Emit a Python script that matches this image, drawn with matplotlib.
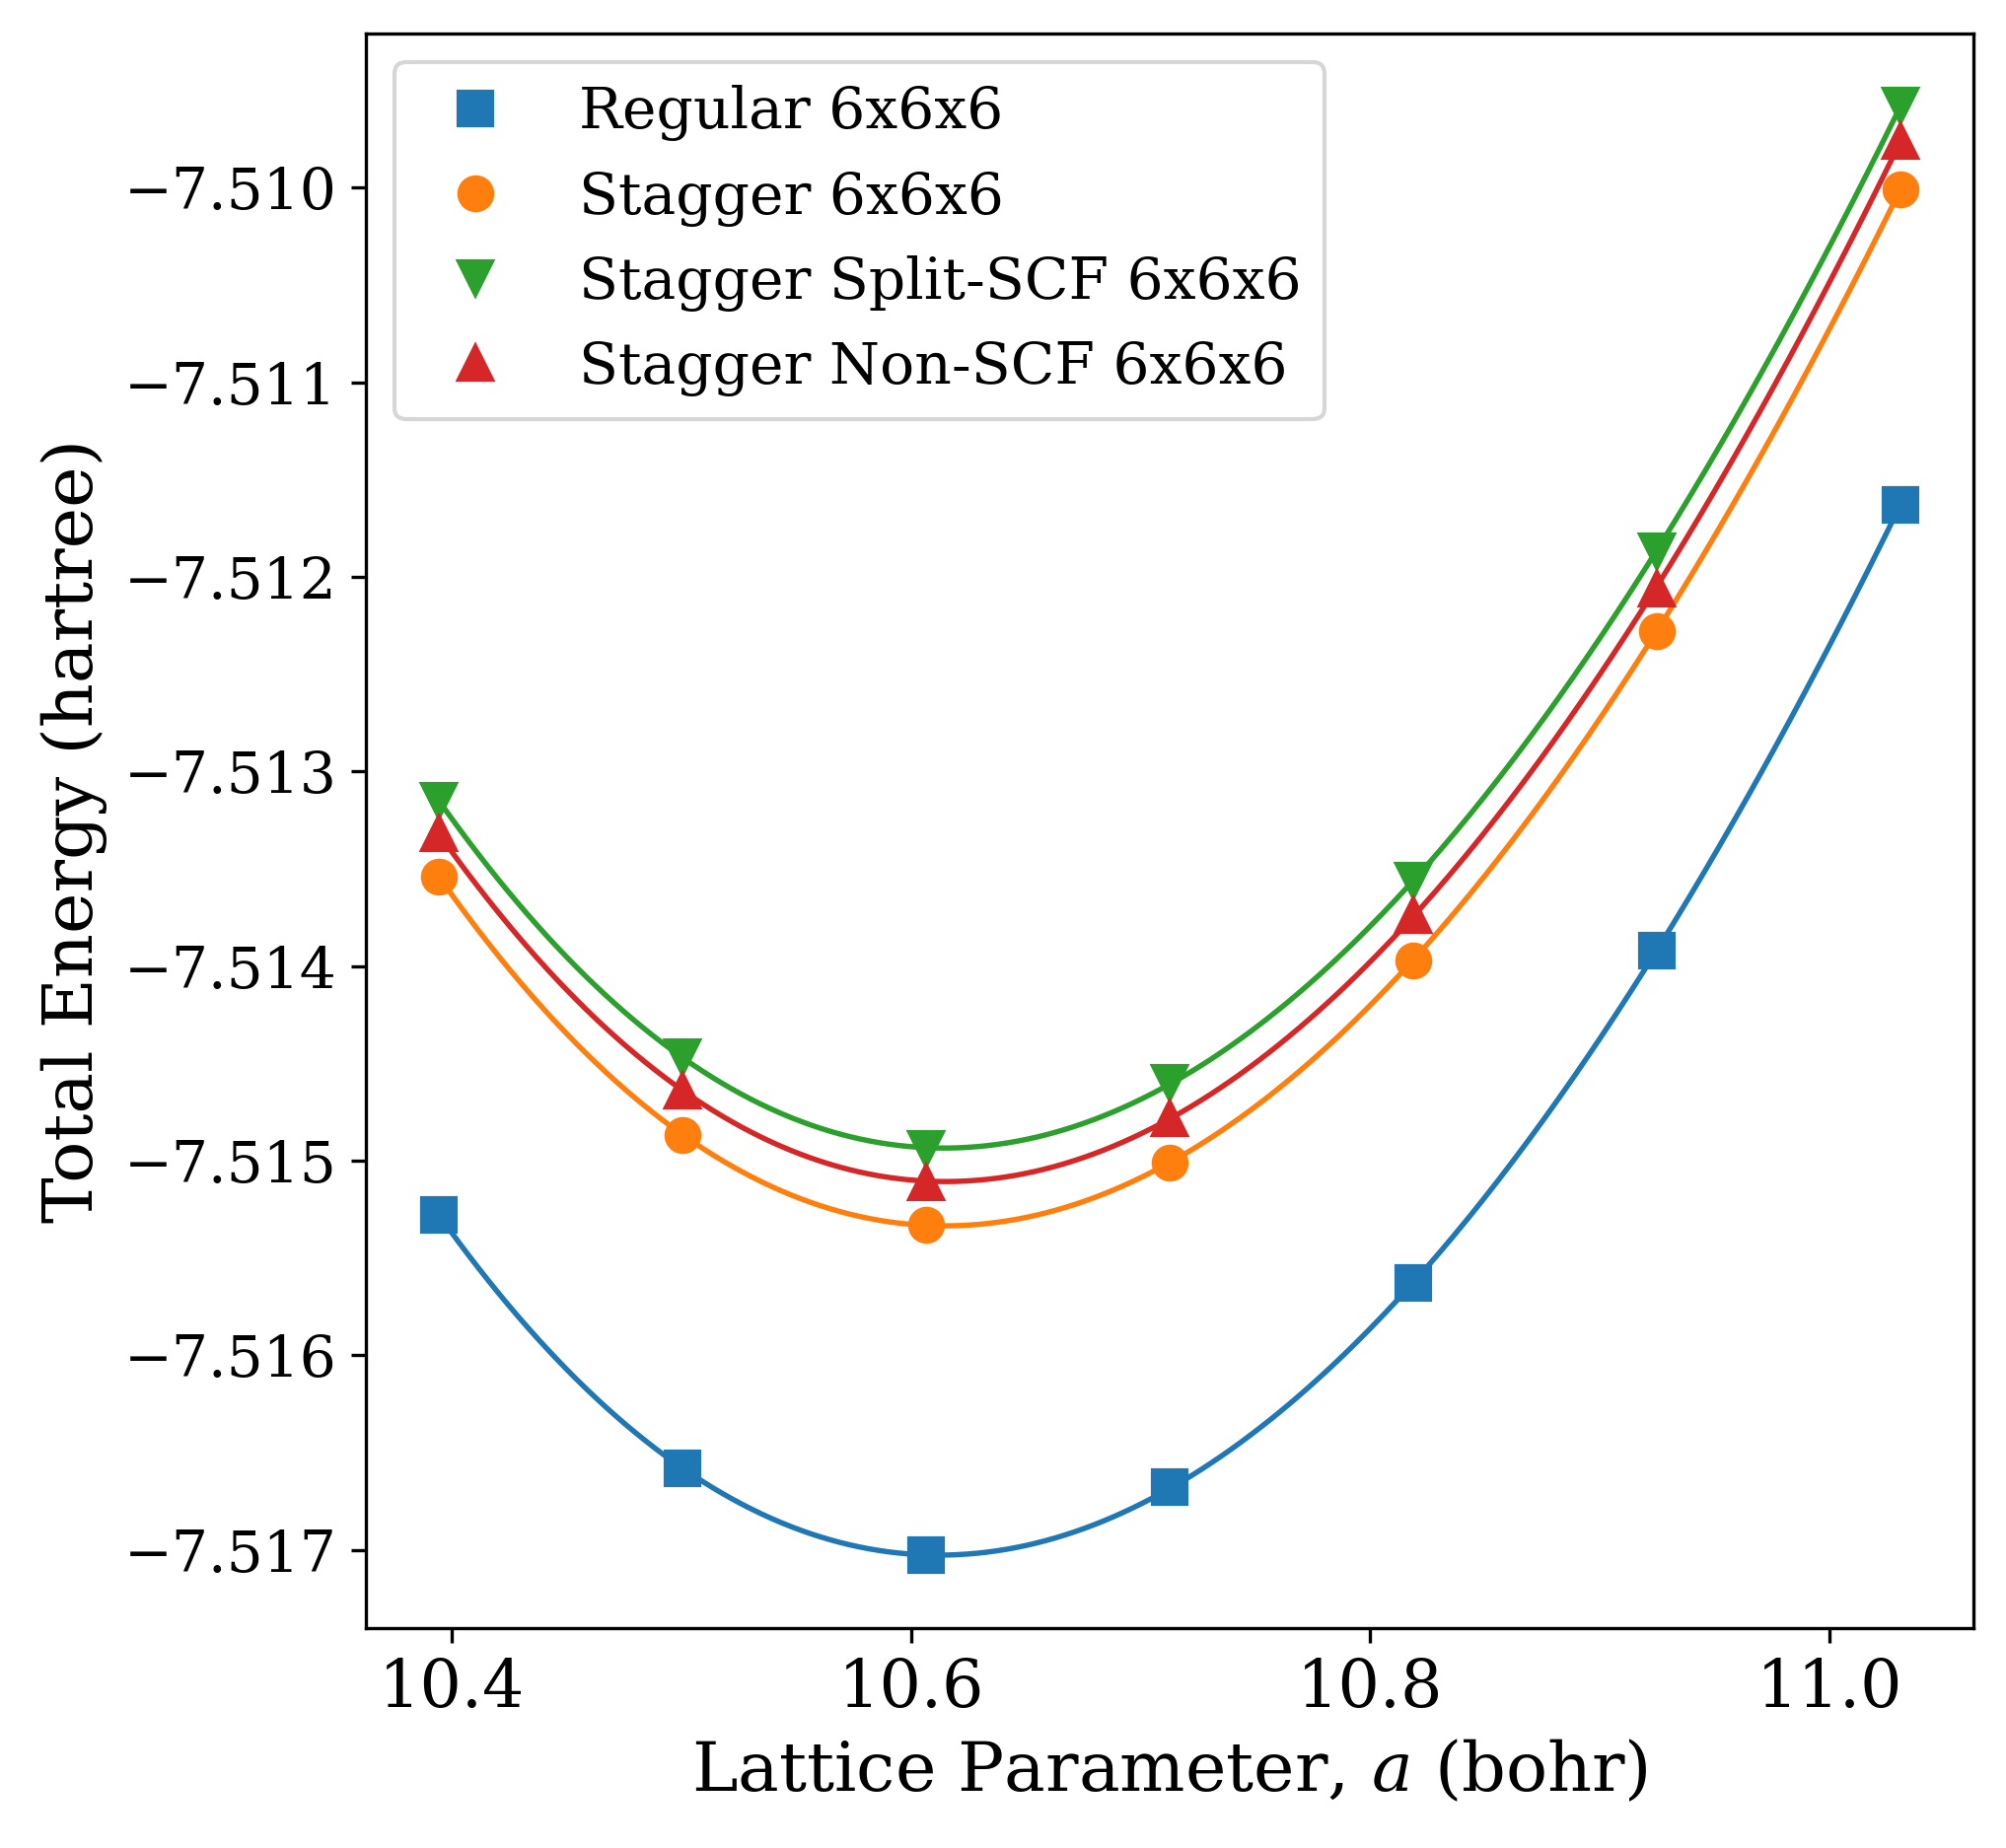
import numpy as np
import matplotlib
matplotlib.use("Agg")
import matplotlib.pyplot as plt

plt.rcParams['font.family'] = 'serif'
plt.rcParams['font.serif'] = ['DejaVu Serif']
plt.rcParams['mathtext.fontset'] = 'dejavuserif'

# lattice parameters (bohr), 10.6066 scaled by -2%..+4%
lattice = [10.3945, 10.5005, 10.6066, 10.7127, 10.8187, 10.9248, 11.0309]

# total energies (hartree)
e_regular = [-7.51528, -7.51658, -7.51703, -7.51668, -7.51563, -7.51392, -7.51163]
e_stagger = [-7.51354, -7.51487, -7.51533, -7.51501, -7.51397, -7.51228, -7.51001]
e_split = [-7.51315, -7.51447, -7.51494, -7.51460, -7.51356, -7.51187, -7.50958]
e_nonscf = [-7.51332, -7.51464, -7.51511, -7.51478, -7.51374, -7.51206, -7.50976]

series = [
    ('Regular 6x6x6', e_regular, 's', 'tab:blue'),
    ('Stagger 6x6x6', e_stagger, 'o', 'tab:orange'),
    ('Stagger Split-SCF 6x6x6', e_split, 'v', 'tab:green'),
    ('Stagger Non-SCF 6x6x6', e_nonscf, '^', 'tab:red'),
]

fig, ax = plt.subplots(figsize=(6.78, 6.2467), dpi=300)
fig.subplots_adjust(left=0.1824, right=0.9838, top=0.9819, bottom=0.119)

a = np.array(lattice)
a_fine = np.linspace(a.min(), a.max(), 300)
for label, e, marker, color in series:
    ax.plot(a, e, marker, color=color, ms=8, label=label)
    coef = np.polyfit(a, e, 3)
    ax.plot(a_fine, np.polyval(coef, a_fine), '-', color=color, lw=1.3)

ax.ticklabel_format(axis='y', useOffset=False)
ax.tick_params(axis='y', labelsize=14)
ax.tick_params(axis='x', labelsize=16)
ax.set_xticks([10.4, 10.6, 10.8, 11.0])
ax.set_xlabel('Lattice Parameter, $a$ (bohr)', fontsize=16.8)
ax.set_ylabel('Total Energy (hartree)', fontsize=16.8)
ax.legend(loc='upper left', fontsize=14)

fig.savefig('out.png', dpi=300)
